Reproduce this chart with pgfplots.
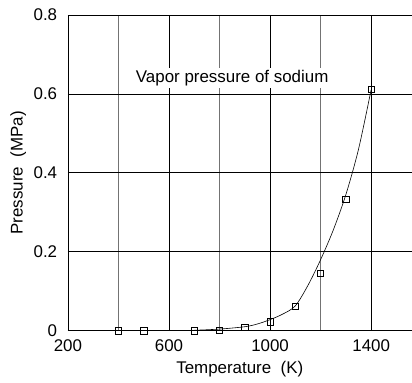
\documentclass[border=0pt]{standalone}
\usepackage{fontspec}
\setmainfont{Liberation Sans}
\usepackage{pgfplots}
\pgfplotsset{compat=1.18}

\begin{document}
\fontsize{17}{20}\selectfont
\begin{tikzpicture}
  \begin{axis}[
      scale only axis,
      width=344bp, height=316bp,
      xmin=200, xmax=1560,
      ymin=0, ymax=0.8,
      axis x line=bottom, axis y line=left,
      axis line style={-, black, line width=0.8pt},
      xtick={200,600,1000,1400},
      minor xtick={400,800,1200},
      ytick={0,0.6,0.8},
      extra y ticks={0.2,0.4},
      extra y tick style={grid style={black!55, line width=1.2pt}},
      xmajorgrids, xminorgrids, ymajorgrids,
      major grid style={black, line width=0.7pt},
      minor grid style={black!55, line width=1.2pt},
      major tick length=0pt, minor tick length=0pt,
      xlabel={Temperature\ \ (K)},
      ylabel={Pressure\ \ (MPa)},
      xticklabel style={yshift=-3pt},
      yticklabel style={xshift=-5pt},
      xlabel style={yshift=2pt},
      ylabel style={yshift=-4pt},
      /pgf/number format/1000 sep={},
      /pgf/number format/assume math mode=true,
      tick label style={font=\fontsize{17}{20}\selectfont},
      label style={font=\fontsize{17}{20}\selectfont},
      clip=false,
  ]
  \node[fill=white, inner sep=2pt, font=\fontsize{17}{20}\selectfont]
      at (axis cs:850,0.64) {Vapor pressure of sodium};
  \addplot[smooth, black, line width=0.6pt, mark=none]
      coordinates {
      (700,0.001)(800,0.004)(900,0.010)(950,0.017)(1000,0.028)(1050,0.042)(1100,0.063)
      (1150,0.115)(1200,0.18)(1250,0.255)(1300,0.345)(1350,0.46)(1400,0.611)
      };
  \addplot[only marks, mark=square, mark size=3.2pt, mark options={line width=0.7pt, fill=none}]
      coordinates {
      (400,0)(500,0)(700,0)(800,0.001)(900,0.008)(1000,0.022)
      (1100,0.061)(1200,0.146)(1300,0.333)(1400,0.611)
      };
  \end{axis}
  \path ([xshift=-68bp,yshift=-50bp]current axis.south west) circle (0pt);
  \path ([xshift=-68bp,yshift=15bp]current axis.north west) circle (0pt);
\end{tikzpicture}
\end{document}
